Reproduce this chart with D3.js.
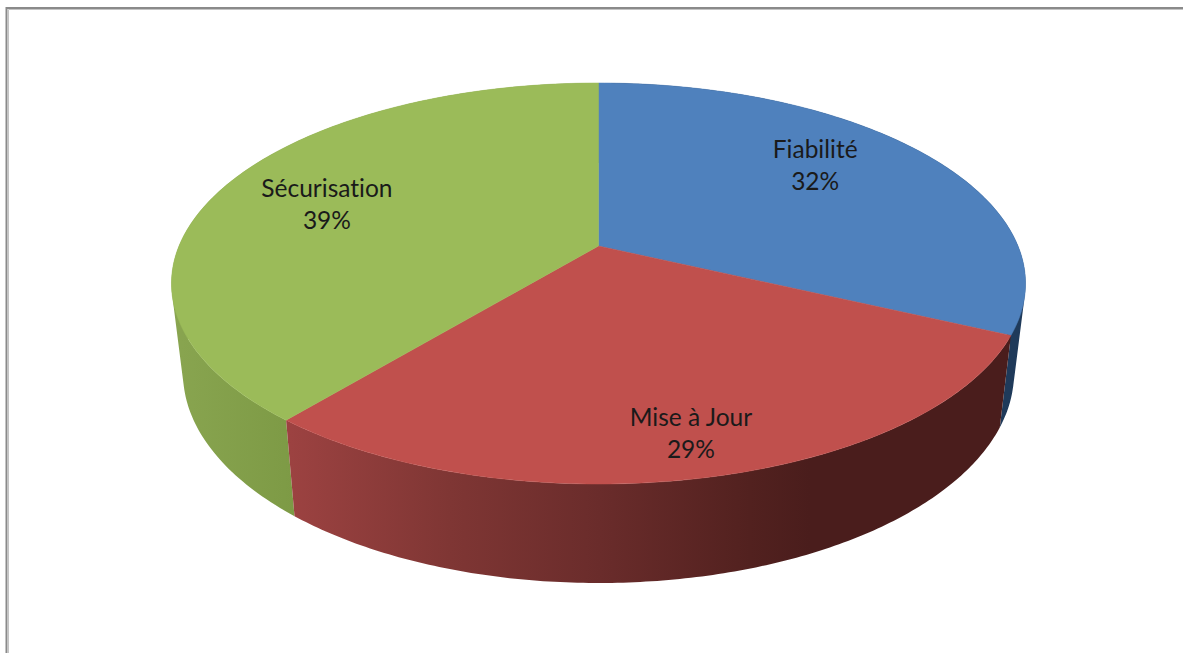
<!DOCTYPE html>
<html lang="fr">
<head>
<meta charset="utf-8">
<title>Répartition</title>
<script src="https://cdn.jsdelivr.net/npm/d3@7"></script>
<style>
  html, body { margin: 0; padding: 0; background: #fff; }
  svg { display: block; }
  text { font-family: Lato, "Open Sans", sans-serif; font-size: 24.5px; font-variant-ligatures: none; fill: #1a1a1a; text-anchor: middle; }
</style>
</head>
<body>
<svg id="chart" width="1183" height="653"></svg>
<script>
// Chart data
const categories = ["Fiabilité", "Mise à Jour", "Sécurisation"];
const shares = [32, 29, 39];

// Slice colours: top face, then horizontal shading of each outer wall
const topColors = ["#4f81bd", "#c0504d", "#9bbb59"];
const wallShades = [
  [[1000, "#1f3a5a"], [1030, "#1f3a5a"]],
  [[290, "#9c4241"], [450, "#7f3634"], [600, "#6a2c2b"], [750, "#52211f"], [810, "#4a1d1c"], [1010, "#4a1d1c"]],
  [[170, "#89a550"], [295, "#7d9a45"]]
];

// Perspective of the disc: the pie's centre sits above the ellipse's centre
const apex = { x: 598.5, y: 246 };
const persp = { a: 419.5, b: 193.5, p: -0.187 };
// The lower rim is slightly narrower and more open than the upper one
const lower = { sx: 0.973, sy: 1.047, y: 333.8 };

function flat(angle, r = 1) {
  const u = r * Math.sin(angle), v = -r * Math.cos(angle);
  const w = 1 + persp.p * v;
  return [persp.a * u / w, persp.b * v / w];
}
const upperPt = (angle, r = 1) => {
  const [x, y] = flat(angle, r);
  return [apex.x + x, apex.y + y];
};
const lowerPt = (angle) => {
  const [x, y] = flat(angle);
  return [apex.x + lower.sx * x, lower.y + lower.sy * y];
};

const svg = d3.select("#chart");
const line = d3.line();

// Frame: only the top and left edges fall inside the view
const frame = svg.append("g").attr("fill", "none");
frame.append("path").attr("d", "M6.5,653V8H1183").attr("stroke", "#8a8a8a").attr("stroke-width", 2);
frame.append("path").attr("d", "M8.5,653V9.5H1183").attr("stroke", "#c4c4c4").attr("stroke-width", 1);

const arcs = d3.pie().sort(null)(shares);

// One horizontal gradient per wall, in page coordinates
const defs = svg.append("defs");
wallShades.forEach((stops, i) => {
  const x0 = stops[0][0], x1 = stops[stops.length - 1][0];
  const offset = d3.scaleLinear().domain([x0, x1]).range([0, 1]);
  const g = defs.append("linearGradient").attr("id", `wall${i}`)
    .attr("gradientUnits", "userSpaceOnUse")
    .attr("x1", x0).attr("x2", x1).attr("y1", 0).attr("y2", 0);
  g.selectAll("stop").data(stops).join("stop")
    .attr("offset", d => offset(d[0]))
    .attr("stop-color", d => d[1]);
});

// Outer walls: every step of the rim adds one quad to a single path. Quads all
// wind the same way, so the nonzero fill gives their union without seams.
function wallPath(d) {
  const n = 160;
  const t = d3.scaleLinear().domain([0, n]).range([d.startAngle, d.endAngle]);
  return d3.range(n).map(k => {
    const quad = [upperPt(t(k)), upperPt(t(k + 1)), lowerPt(t(k + 1)), lowerPt(t(k))];
    if (d3.polygonArea(quad) < 0) quad.reverse();
    return line(quad) + "Z";
  }).join("");
}

// The blue and green walls go first so the red wall overlaps their edges
const wallOrder = [0, 2, 1];
svg.append("g").selectAll("path").data(wallOrder).join("path")
  .attr("d", i => wallPath(arcs[i]))
  .attr("fill", i => `url(#wall${i})`);

// Top faces
svg.append("g").selectAll("path").data(arcs).join("path")
  .attr("d", d => {
    const n = 120;
    const t = d3.scaleLinear().domain([0, n]).range([d.startAngle, d.endAngle]);
    return line([[apex.x, apex.y], ...d3.range(n + 1).map(k => upperPt(t(k)))]) + "Z";
  })
  .attr("fill", (d, i) => topColors[i])
  .attr("stroke", (d, i) => topColors[i])
  .attr("stroke-width", 0.5);

// Labels sit near each slice's mid angle
const labelNudge = [[-15, -12], [19, 36], [-7, 3]];
const labels = svg.append("g");
arcs.forEach((d, i) => {
  const [x, y] = upperPt((d.startAngle + d.endAngle) / 2, 0.7);
  const total = d3.sum(shares);
  const tx = x + labelNudge[i][0], ty = y + labelNudge[i][1];
  labels.append("text").attr("x", tx).attr("y", ty - 8).text(categories[i]);
  labels.append("text").attr("x", tx).attr("y", ty + 24).text(d3.format(".0%")(d.value / total));
});
</script>
</body>
</html>
